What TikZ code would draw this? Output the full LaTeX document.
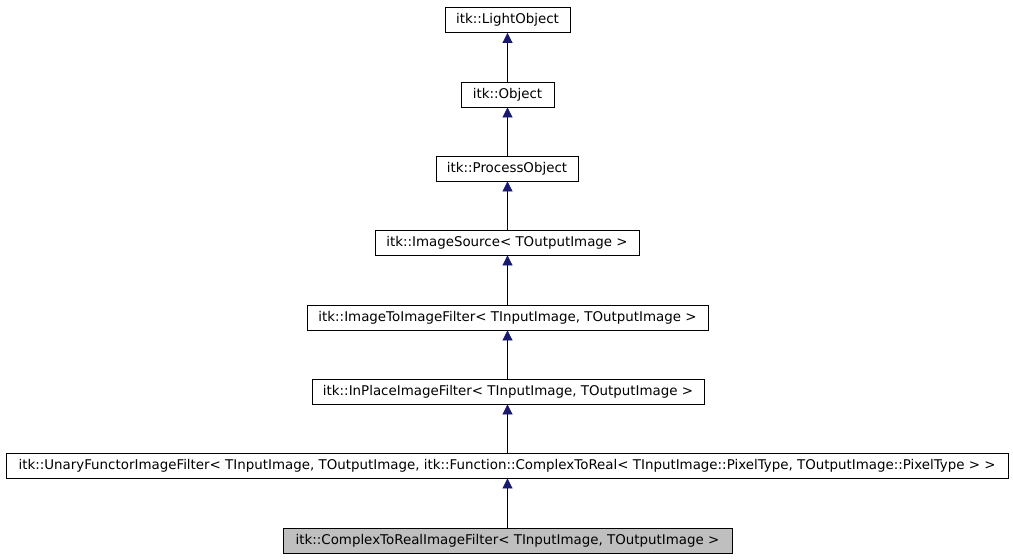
\documentclass[tikz,border=0pt]{standalone}
\usepackage{fontspec}
\setmainfont{DejaVu Sans}
\usetikzlibrary{arrows.meta}
\begin{document}
\begin{tikzpicture}[x=1pt,y=-1pt,
  cls/.style={draw=black,fill=white,minimum height=25pt,inner sep=0pt,font=\fontsize{13.4}{15}\selectfont,line width=0.8pt},
  inh/.style={draw=black,line width=0.7pt,-{Triangle[length=10pt,width=10pt,fill=navyc,color=navyc]}}]
\definecolor{navyc}{RGB}{25,25,112}
\useasboundingbox (0,0) rectangle (1013,560);
\node[cls,minimum width=125pt] (lo) at (507.5,20) {itk::LightObject};
\node[cls,minimum width=93pt] (ob) at (507.5,94.5) {itk::Object};
\node[cls,minimum width=142pt] (po) at (507,168.5) {itk::ProcessObject};
\node[cls,minimum width=264pt] (is) at (507,242.5) {itk::ImageSource< TOutputImage >};
\node[cls,minimum width=401pt] (iti) at (507.5,317.5) {itk::ImageToImageFilter< TInputImage, TOutputImage >};
\node[cls,minimum width=392pt] (ip) at (508,391.5) {itk::InPlaceImageFilter< TInputImage, TOutputImage >};
\node[cls,minimum width=1002pt] (uf) at (507,465.5) {itk::UnaryFunctorImageFilter< TInputImage, TOutputImage, itk::Function::ComplexToReal< TInputImage::PixelType, TOutputImage::PixelType > >};
\node[cls,minimum width=449pt,fill={rgb,255:red,191;green,191;blue,191}] (cr) at (507.5,540.5) {itk::ComplexToRealImageFilter< TInputImage, TOutputImage >};
\draw[inh] (ob.north-|lo.south) -- (lo.south);
\draw[inh] (po.north-|lo.south) -- (ob.south-|lo.south);
\draw[inh] (is.north-|lo.south) -- (po.south-|lo.south);
\draw[inh] (iti.north-|lo.south) -- (is.south-|lo.south);
\draw[inh] (ip.north-|lo.south) -- (iti.south-|lo.south);
\draw[inh] (uf.north-|lo.south) -- (ip.south-|lo.south);
\draw[inh] (cr.north-|lo.south) -- (uf.south-|lo.south);
\end{tikzpicture}
\end{document}
